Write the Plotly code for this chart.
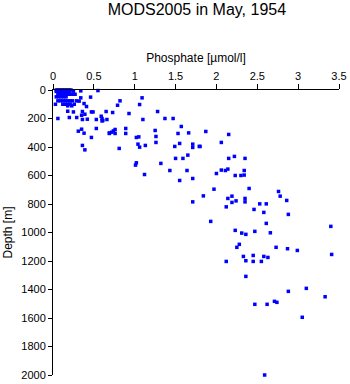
import plotly.graph_objects as go

# Phosphate profile observations (µmol/l) against depth (m)
phosphate = [
    0.04, 0.06, 0.08, 0.10, 0.12, 0.14, 0.16, 0.18, 0.20, 0.22,
    0.04, 0.06, 0.08, 0.10, 0.12, 0.14, 0.16, 0.18, 0.20,
    0.25, 0.34, 0.55,
    0.06, 0.08, 0.10, 0.12, 0.14, 0.16, 0.18, 0.21, 0.24, 0.27,
    0.04, 0.07, 0.10, 0.13, 0.16, 0.34, 0.46,
    0.06, 0.09, 0.12, 0.15, 0.18, 0.21, 0.24, 0.29, 0.32,
    0.03, 0.12, 0.15, 0.18, 0.21, 0.26, 0.38,
    0.18, 0.23, 0.41,
    0.18, 0.25, 0.36, 0.47, 0.49,
    0.35, 0.39,
    0.06, 0.20, 0.29, 0.36, 0.42, 0.53, 0.60, 0.60,
    0.35, 0.53, 0.31, 0.38, 0.47, 0.69, 0.74, 0.36, 0.39,
    0.82, 1.09, 0.79, 1.06, 0.65, 0.73, 0.93, 1.28, 0.59, 0.61, 0.66, 1.10,
    1.37, 1.47, 1.57, 0.76, 0.89, 1.25, 0.69, 0.72, 0.76, 0.89, 1.53, 1.66,
    1.02, 1.05, 1.26, 1.26, 1.04, 1.06, 1.13, 1.49, 1.55, 1.71, 1.71, 1.79,
    0.81, 1.65, 1.50, 1.59, 1.02, 1.01, 1.32, 1.43, 1.64, 1.12, 1.71, 1.55,
    1.87, 2.15, 2.06, 1.80, 2.15, 2.22, 2.35, 2.06, 2.14, 2.00, 2.11, 2.34,
    2.23, 2.30, 2.34, 1.97, 2.40, 2.76,
    1.84, 2.19, 2.78, 1.71, 2.14, 2.19, 2.24, 2.35, 2.35, 2.86, 2.12, 2.53,
    2.61, 2.46, 2.58, 2.88, 1.93, 2.61, 3.40, 2.23, 2.31, 2.36, 2.47, 2.66,
    2.28, 2.25, 2.73, 2.87, 2.99, 3.41, 2.33, 2.45, 2.58, 2.63, 2.12, 2.36,
    2.45, 2.55, 2.36, 2.88, 3.10, 3.33, 2.47, 2.62, 2.71, 2.74, 3.05, 2.59,
]
depth = [
    0, 0, 0, 0, 0, 0, 0, 0, 0, 0,
    10, 10, 10, 10, 10, 10, 10, 10, 10,
    8, 6, 4,
    30, 30, 30, 30, 30, 30, 30, 30, 30, 30,
    48, 48, 48, 48, 48, 55, 50,
    76, 76, 76, 76, 76, 76, 76, 76, 78,
    100, 100, 100, 100, 100, 100, 95,
    111, 111, 116,
    149, 154, 151, 154, 154,
    177, 170,
    200, 193, 193, 207, 205, 207, 200, 217,
    275, 270, 289, 303, 333, 301, 287, 389, 420,
    76, 55, 107, 102, 151, 158, 165, 151, 184, 214, 207, 207,
    200, 200, 256, 277, 270, 284, 305, 296, 305, 305, 305, 301,
    333, 329, 326, 368, 380, 401, 389, 396, 375, 380, 403, 396,
    410, 457, 480, 480, 511, 527, 515, 565, 565, 593, 621, 635,
    291, 312, 368, 396, 480, 466, 480, 562, 555, 586, 565, 565,
    600, 600, 597, 696, 691, 712,
    743, 745, 745, 785, 761, 789, 778, 761, 785, 775, 820, 799,
    799, 838, 859, 873, 922, 936, 957, 985, 1004, 1013, 992, 1002,
    1083, 1104, 1104, 1114, 1126, 1154, 1168, 1161, 1168, 1175, 1203, 1198,
    1203, 1203, 1308, 1413, 1392, 1451, 1504, 1504, 1483, 1490, 1595, 2000,
]

x_ticks = [0, 0.5, 1, 1.5, 2, 2.5, 3, 3.5]
x_tick_text = ["0", "0.5", "1", "1.5", "2", "2.5", "3", "3.5"]
y_ticks = [0, 200, 400, 600, 800, 1000, 1200, 1400, 1600, 1800, 2000]

font_family = "Liberation Sans, Arial, sans-serif"

fig = go.Figure(
    go.Scatter(
        x=phosphate,
        y=depth,
        mode="markers",
        marker=dict(symbol="square", size=3.5, color="#0000ff", line=dict(width=0)),
        cliponaxis=False,
        hoverinfo="x+y",
    )
)

fig.update_layout(
    width=350,
    height=384,
    margin=dict(l=53, r=11, t=90, b=9, autoexpand=False),
    paper_bgcolor="white",
    plot_bgcolor="white",
    showlegend=False,
    font=dict(family=font_family, size=11, color="black"),
    title=dict(
        text="MODS2005 in May, 1954",
        x=0.5625,
        xanchor="center",
        y=0.975,
        yanchor="middle",
        font=dict(family=font_family, size=16, color="black"),
    ),
)

fig.update_xaxes(
    side="top",
    range=[0, 3.5],
    tickvals=x_ticks,
    ticktext=x_tick_text,
    ticks="outside",
    ticklen=5,
    tickwidth=1,
    tickcolor="black",
    showline=True,
    linecolor="black",
    linewidth=1,
    showgrid=False,
    zeroline=False,
    automargin=False,
    title=dict(text="Phosphate [µmol/l]", standoff=4, font=dict(size=12)),
    tickfont=dict(size=11),
)

fig.update_yaxes(
    range=[2000, 0],
    tickvals=y_ticks,
    ticks="outside",
    ticklen=4,
    tickwidth=1,
    tickcolor="black",
    showline=True,
    linecolor="black",
    linewidth=1,
    showgrid=False,
    zeroline=False,
    automargin=False,
    title=dict(text="Depth [m]", standoff=6, font=dict(size=12)),
    tickfont=dict(size=11),
)

fig.write_html("out.html")
